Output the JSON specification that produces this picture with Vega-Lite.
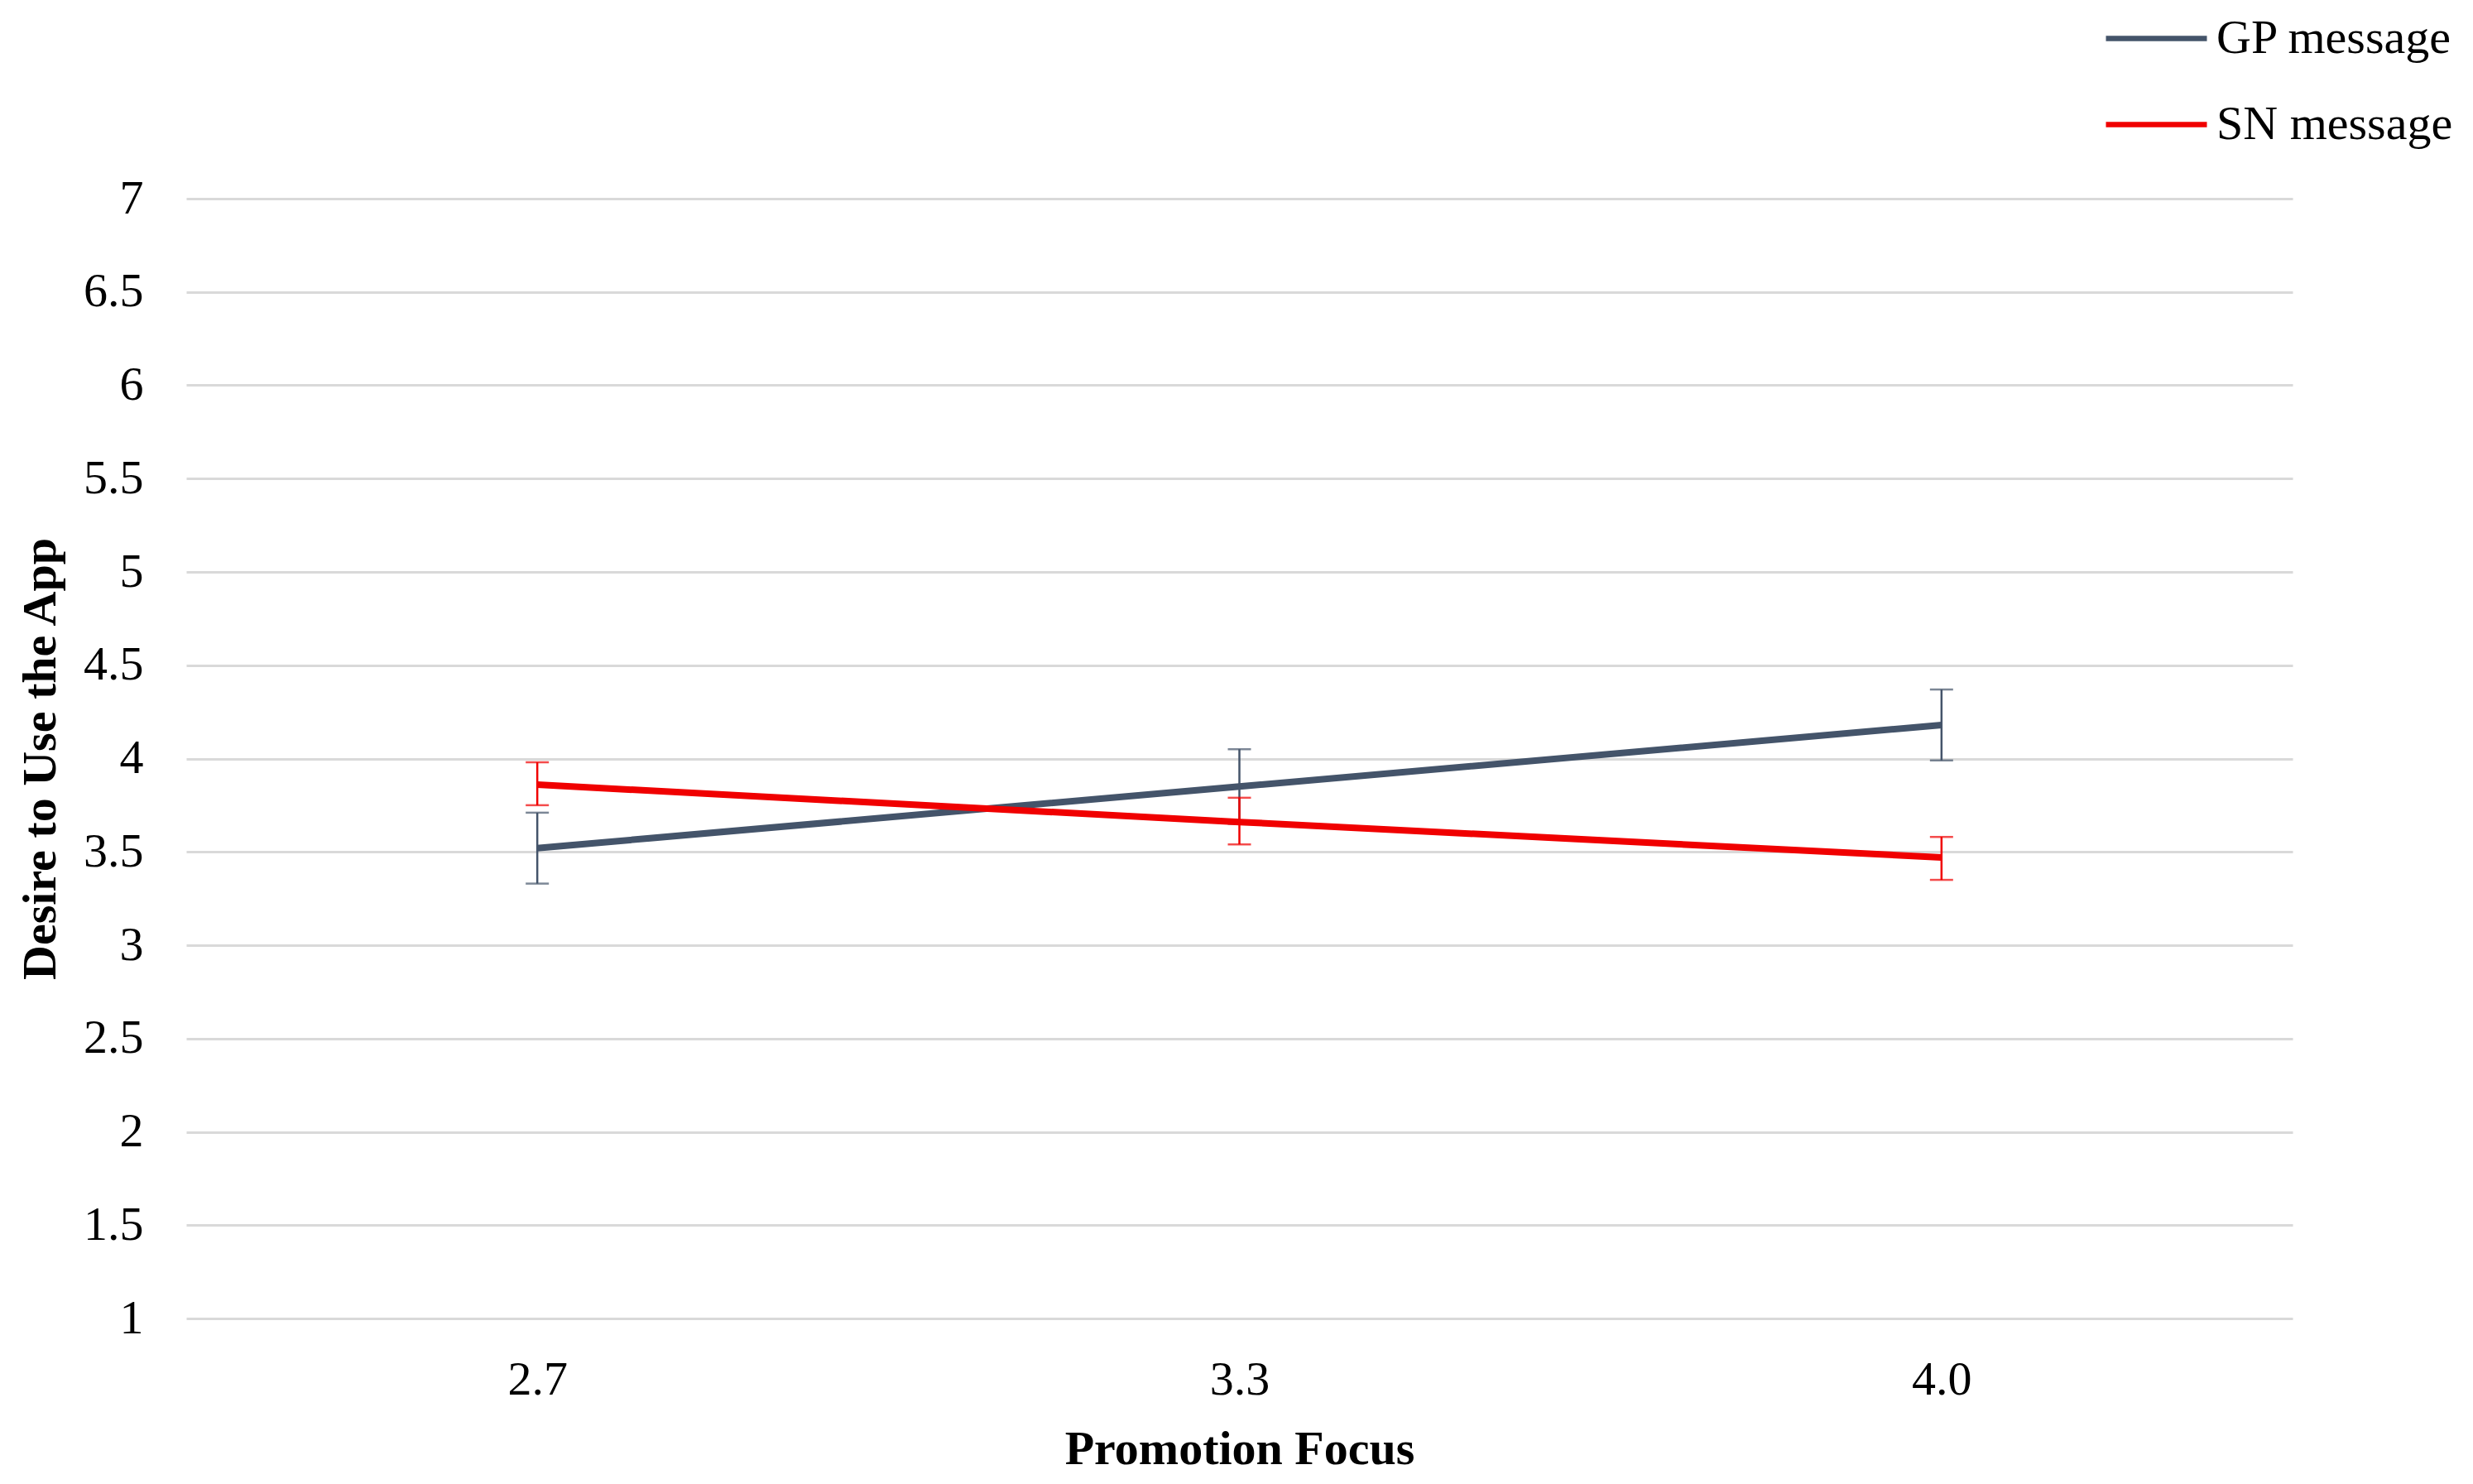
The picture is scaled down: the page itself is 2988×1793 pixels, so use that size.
{
  "$schema": "https://vega.github.io/schema/vega-lite/v6.json",
  "autosize": {"type": "none"},
  "width": 2545,
  "height": 1353,
  "padding": {"left": 225, "top": 240, "right": 218, "bottom": 200},
  "background": "white",
  "config": {
    "font": "Liberation Serif",
    "view": {"stroke": null}
  },
  "data": {
    "values": [
      {"focus": "2.7", "group": "GP message", "mean": 3.52, "lo": 3.33, "hi": 3.71},
      {"focus": "3.3", "group": "GP message", "mean": 3.85, "lo": 3.65, "hi": 4.05},
      {"focus": "4.0", "group": "GP message", "mean": 4.18, "lo": 3.99, "hi": 4.37},
      {"focus": "2.7", "group": "SN message", "mean": 3.86, "lo": 3.75, "hi": 3.98},
      {"focus": "3.3", "group": "SN message", "mean": 3.66, "lo": 3.54, "hi": 3.79},
      {"focus": "4.0", "group": "SN message", "mean": 3.47, "lo": 3.35, "hi": 3.58}
    ]
  },
  "encoding": {
    "x": {
      "field": "focus", "type": "ordinal",
      "scale": {"type": "point", "padding": 0.5},
      "axis": {
        "title": "Promotion Focus", "labelAngle": 0, "domain": false, "ticks": false,
        "labelFontSize": 58, "labelColor": "black", "labelPadding": 45,
        "titleFontSize": 58, "titleFontWeight": "bold", "titleColor": "black", "titlePadding": 26
      }
    },
    "color": {
      "field": "group", "type": "nominal",
      "scale": {"domain": ["GP message", "SN message"], "range": ["#44546a", "#f00000"]},
      "legend": {
        "title": null, "orient": "none", "legendX": 2316, "legendY": -258,
        "symbolType": "stroke", "symbolSize": 14884, "symbolStrokeWidth": 6.5, "symbolOpacity": 1,
        "labelFontSize": 58, "labelColor": "black", "labelOffset": 8, "rowPadding": 10,
        "labelLimit": 600, "labelFont": "Liberation Serif"
      }
    }
  },
  "layer": [
    {
      "mark": {"type": "rule", "strokeWidth": 2.5},
      "encoding": {
        "y": {"field": "lo", "type": "quantitative"},
        "y2": {"field": "hi"}
      }
    },
    {
      "mark": {"type": "tick", "orient": "horizontal", "size": 28, "thickness": 2.5},
      "encoding": {"y": {"field": "lo", "type": "quantitative"}}
    },
    {
      "mark": {"type": "tick", "orient": "horizontal", "size": 28, "thickness": 2.5},
      "encoding": {"y": {"field": "hi", "type": "quantitative"}}
    },
    {
      "mark": {"type": "line", "strokeWidth": 8},
      "encoding": {
        "y": {
          "field": "mean", "type": "quantitative",
          "scale": {"domain": [1, 7], "nice": false, "zero": false},
          "axis": {
            "title": "Desire to Use the App",
            "values": [1, 1.5, 2, 2.5, 3, 3.5, 4, 4.5, 5, 5.5, 6, 6.5, 7],
            "format": "~g", "domain": false, "ticks": false,
            "grid": true, "gridColor": "#d9d9d9", "gridWidth": 3,
            "labelFontSize": 58, "labelColor": "black", "labelPadding": 52,
            "titleFontSize": 58, "titleFontWeight": "bold", "titleColor": "black", "titlePadding": 22
          }
        }
      }
    }
  ]
}
